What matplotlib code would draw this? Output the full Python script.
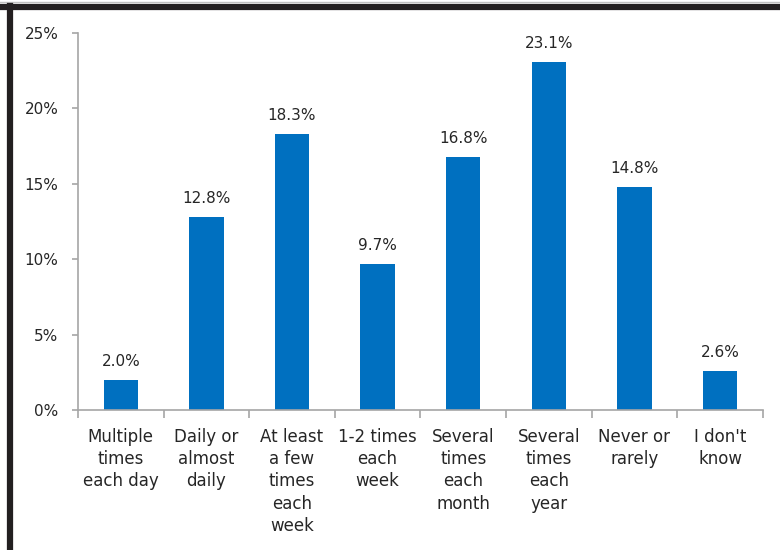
import matplotlib
matplotlib.use("Agg")
import matplotlib.pyplot as plt
from matplotlib.ticker import FixedLocator, NullFormatter
import numpy as np

categories = ["Multiple\ntimes\neach day", "Daily or\nalmost\ndaily", "At least\na few\ntimes\neach\nweek",
              "1-2 times\neach\nweek", "Several\ntimes\neach\nmonth", "Several\ntimes\neach\nyear",
              "Never or\nrarely", "I don't\nknow"]
shares = [2.0, 12.8, 18.3, 9.7, 16.8, 23.1, 14.8, 2.6]
yticks = [0, 5, 10, 15, 20, 25]

BLUE, AXIS, TEXT = "#0070c0", "#a6a6a6", "#262626"
plt.rcParams["font.family"] = ["DejaVu Sans"]

fig = plt.figure(figsize=(7.8, 5.5), dpi=100, facecolor="white")
ax = fig.add_axes([0.1, 0.2545, 0.878, 0.6855])

x = np.arange(len(shares))
ax.bar(x, shares, 0.4, color=BLUE)
for xi, v in zip(x, shares):
    ax.annotate(f"{v:.1f}%", (xi, v), xytext=(0, 8), textcoords="offset points",
                ha="center", va="bottom", fontsize=11, color=TEXT)

ax.set_xlim(-0.5, len(shares) - 0.5)
ax.set_ylim(0, 25)
ax.set_yticks(yticks)
ax.set_yticklabels([f"{t}%" for t in yticks], fontsize=11, color=TEXT)

# category labels centred, tick marks between categories
ax.xaxis.set_major_locator(FixedLocator(np.arange(-0.5, len(shares), 1.0)))
ax.xaxis.set_major_formatter(NullFormatter())
ax.xaxis.set_minor_locator(FixedLocator(x))
ax.set_xticklabels(categories, minor=True, fontsize=12, color=TEXT, linespacing=1.3, va="top")
ax.tick_params(axis="x", which="minor", length=0, pad=13)
ax.tick_params(axis="x", which="major", length=6, color=AXIS, width=1.2)
ax.tick_params(axis="y", length=4, color=AXIS, width=1.2, pad=10)

for s in ("top", "right"):
    ax.spines[s].set_visible(False)
for s in ("left", "bottom"):
    ax.spines[s].set_color(AXIS)
    ax.spines[s].set_linewidth(1.2)

# heavy frame on the top and left edges
fig.add_artist(plt.Line2D([0.0, 1.0], [0.9965, 0.9965], color="#c0c0c0", lw=1, transform=fig.transFigure))
fig.add_artist(plt.Line2D([0.0, 1.0], [0.9864, 0.9864], color="#231f20", lw=4.5, transform=fig.transFigure))
fig.add_artist(plt.Line2D([0.0122, 0.0122], [0.0, 0.99], color="#231f20", lw=4.5, transform=fig.transFigure))

fig.savefig("out.png", dpi=100, facecolor="white")
